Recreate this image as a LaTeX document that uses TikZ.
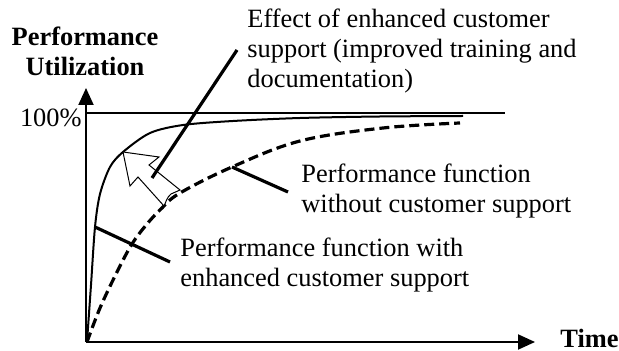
\documentclass[tikz,border=0pt]{standalone}
\usepackage{fontspec}
\setmainfont{Liberation Serif}
\usetikzlibrary{arrows.meta}
\pgfdeclarelayer{edgelayer}
\pgfdeclarelayer{nodelayer}
\pgfsetlayers{edgelayer,nodelayer,main}
\newcommand{\figfont}{\fontsize{13.2}{15}\selectfont}
\tikzset{font=\figfont}
\tikzstyle{none}=[inner sep=0pt]
\tikzstyle{lbl}=[inner sep=0pt,anchor=base west,align=left]
\tikzstyle{bold}=[font=\figfont\bfseries]
\tikzstyle{axis}=[line width=1pt,-{Triangle[length=8.5pt,width=7.5pt]}]
\tikzstyle{curve}=[line width=1pt]
\tikzstyle{dcurve}=[line width=1.6pt,dash pattern=on 5pt off 2.5pt]
\tikzstyle{pointer}=[line width=1.6pt]
\tikzstyle{hollow}=[line width=0.5pt,fill=white,line join=miter]

\begin{document}
\begin{tikzpicture}[x=0.5pt,y=-0.5pt]
	\useasboundingbox (0,0) rectangle (619,351);
	\begin{pgfonlayer}{nodelayer}
		\coordinate (o) at (86,342);
		\coordinate (ytop) at (86,88);
		\coordinate (xend) at (535,342);
		\coordinate (full) at (86,113);
		\coordinate (fullend) at (505,113);
		\node [style=none,anchor=base east] (pct) at (82,127) {100\%};
		\node [style=none,style=bold,anchor=base west] (time) at (560,347) {Time};
		\node [style=none,style=bold,anchor=base,align=center] (yname) at (85,76) {Performance\\Utilization};
		\node [style=lbl] (effect) at (247,88) {Effect of enhanced customer\\support (improved training and\\documentation)};
		\node [style=lbl] (without) at (301,213) {Performance function\\without customer support};
		\node [style=lbl] (with) at (180,287) {Performance function with\\enhanced customer support};
		\coordinate (onsolid) at (95,227);
		\coordinate (withend) at (170,262);
		\coordinate (ondashed) at (232,167);
		\coordinate (withoutend) at (288,192);
		\coordinate (inarrow) at (152,178);
		\coordinate (effectend) at (237,50);
	\end{pgfonlayer}
	\begin{pgfonlayer}{edgelayer}
		\draw[axis] (o) to (ytop);
		\draw[axis] (o) to (xend);
		\draw[curve] (full) to (fullend);
		% performance curves
		\draw[curve] plot[smooth,tension=0.5] coordinates {(87,342) (91,285) (95,227) (100,194) (110,167) (123,152) (150,133) (183,125) (233,121) (300,118) (380,116.5) (463,116)};
		\draw[dcurve] plot[smooth,tension=0.6] coordinates {(87,342) (100,308) (117,272) (132,244) (147,224) (162,208) (180,193) (232,167) (300,141) (383,128) (460,123)};
		% hollow arrow
		\draw[hollow] (123,152) -- (159,157) -- (149,165) -- (180,190) -- (171,194) .. controls (167,197) and (166,202) .. (164,206) -- (138,177) -- (130,186) -- cycle;
		\draw[pointer] (onsolid) to (withend);
		\draw[pointer] (ondashed) to (withoutend);
		\draw[pointer] (inarrow) to (effectend);
	\end{pgfonlayer}
\end{tikzpicture}
\end{document}
